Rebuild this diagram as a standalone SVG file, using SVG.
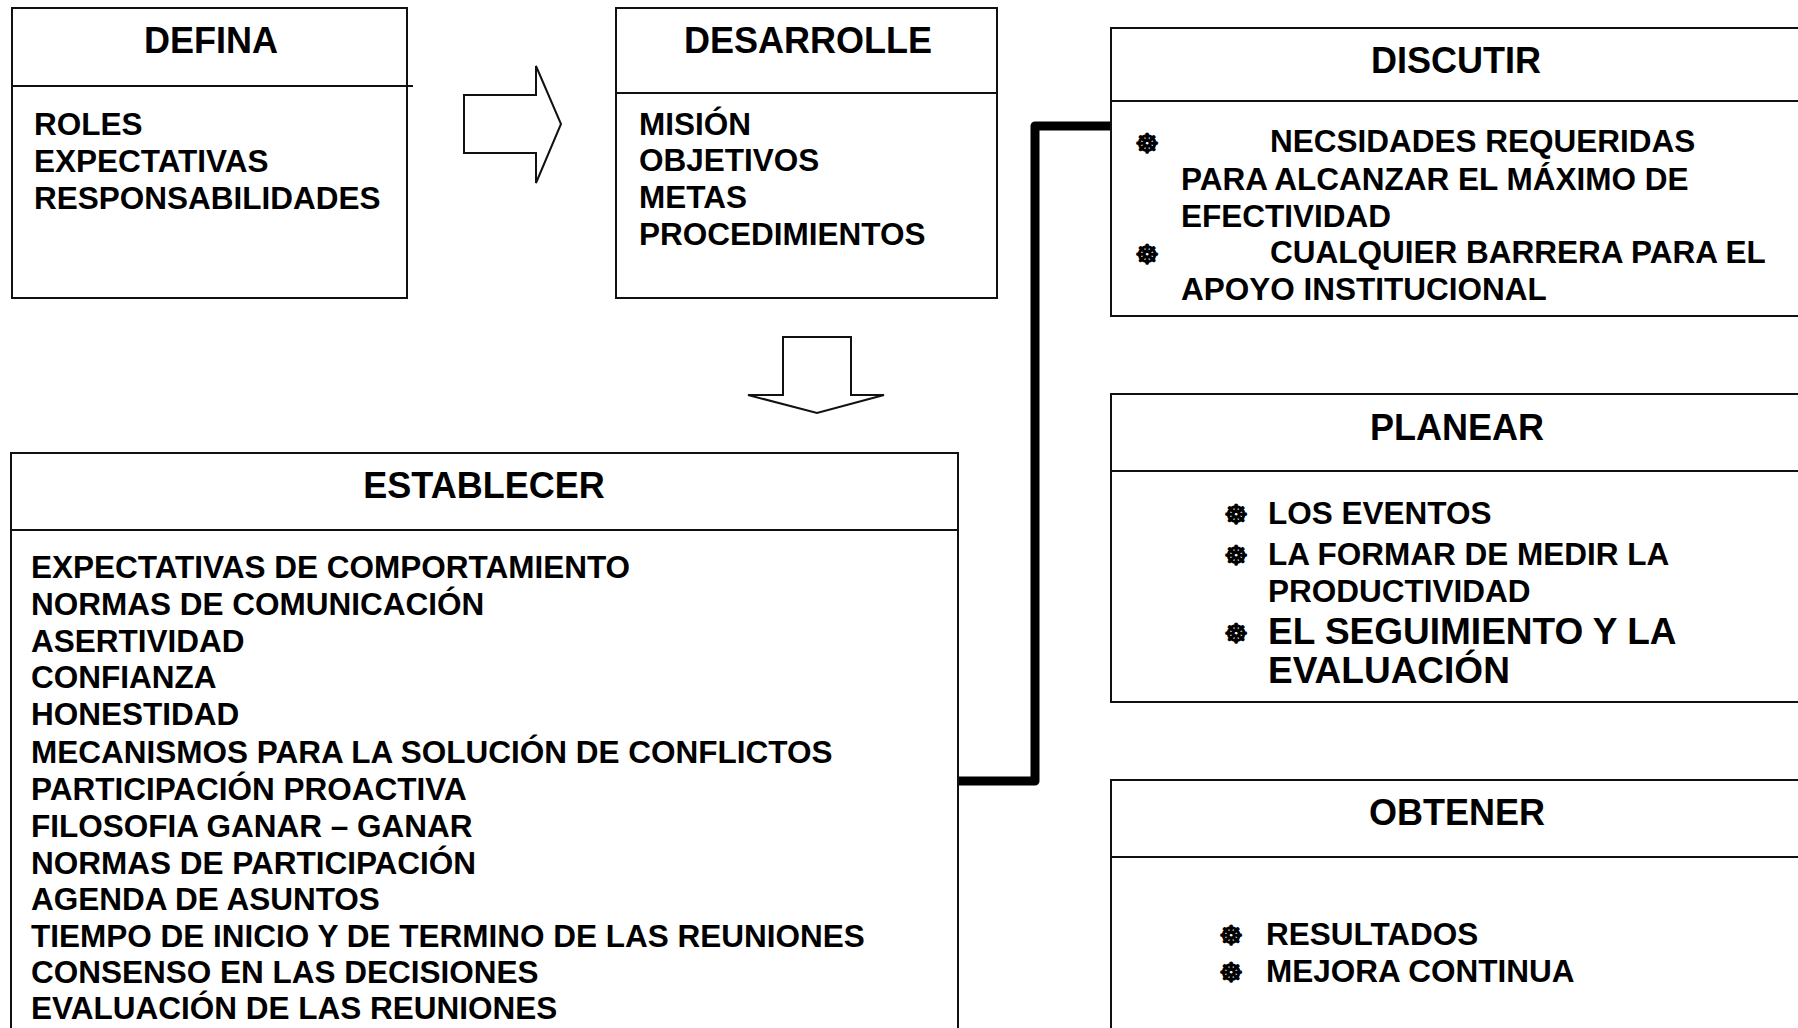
<svg xmlns="http://www.w3.org/2000/svg" width="1798" height="1028" viewBox="0 0 1798 1028">
<defs>
<style>
.box{fill:#fff;stroke:#111;stroke-width:2}
.div{stroke:#111;stroke-width:2;fill:none}
.t{font-family:"Liberation Sans",Arial,sans-serif;font-weight:bold;fill:#000}
.title{font-size:36px;text-anchor:middle}
.body{font-size:31.5px}
.big{font-size:37px}
.bul{font-family:"DejaVu Sans",sans-serif;font-size:27px;text-anchor:middle;fill:#000;stroke:#000;stroke-width:1.3}
.arrow{fill:#fff;stroke:#111;stroke-width:2;stroke-linejoin:miter}
.conn{fill:none;stroke:#000;stroke-width:9;stroke-linejoin:round}
</style>
</defs>
<rect width="1798" height="1028" fill="#fff"/>

<g id="connectors">
<polygon class="arrow" points="464,95 536,95 536,66 561,124 536,183 536,153 464,153"/>
<polygon class="arrow" points="783,337 851,337 851,395 884,395 817,413 748,395 783,395"/>
<path class="conn" d="M958,781 H1035 V126 H1111"/>
</g>

<g id="defina">
<rect class="box" x="12" y="8" width="395" height="290"/>
<line class="div" x1="12" y1="86" x2="413" y2="86"/>
<text class="t title" x="211" y="53">DEFINA</text>
<text class="t body" x="34" y="135">ROLES</text>
<text class="t body" x="34" y="172">EXPECTATIVAS</text>
<text class="t body" x="34" y="209">RESPONSABILIDADES</text>
</g>

<g id="desarrolle">
<rect class="box" x="616" y="8" width="381" height="290"/>
<line class="div" x1="616" y1="93" x2="997" y2="93"/>
<text class="t title" x="808" y="53">DESARROLLE</text>
<text class="t body" x="639" y="135">MISIÓN</text>
<text class="t body" x="639" y="171">OBJETIVOS</text>
<text class="t body" x="639" y="208">METAS</text>
<text class="t body" x="639" y="245">PROCEDIMIENTOS</text>
</g>

<g id="establecer">
<rect class="box" x="11" y="453" width="947" height="600"/>
<line class="div" x1="11" y1="530" x2="958" y2="530"/>
<text class="t title" x="484" y="498">ESTABLECER</text>
<text class="t body" x="31" y="578">EXPECTATIVAS DE COMPORTAMIENTO</text>
<text class="t body" x="31" y="615">NORMAS DE COMUNICACIÓN</text>
<text class="t body" x="31" y="652">ASERTIVIDAD</text>
<text class="t body" x="31" y="688">CONFIANZA</text>
<text class="t body" x="31" y="725">HONESTIDAD</text>
<text class="t body" x="31" y="763">MECANISMOS PARA LA SOLUCIÓN DE CONFLICTOS</text>
<text class="t body" x="31" y="800">PARTICIPACIÓN PROACTIVA</text>
<text class="t body" x="31" y="837">FILOSOFIA GANAR – GANAR</text>
<text class="t body" x="31" y="874">NORMAS DE PARTICIPACIÓN</text>
<text class="t body" x="31" y="910">AGENDA DE ASUNTOS</text>
<text class="t body" x="31" y="947">TIEMPO DE INICIO Y DE TERMINO DE LAS REUNIONES</text>
<text class="t body" x="31" y="983">CONSENSO EN LAS DECISIONES</text>
<text class="t body" x="31" y="1019">EVALUACIÓN DE LAS REUNIONES</text>
</g>

<g id="discutir">
<rect class="box" x="1111" y="28" width="720" height="288"/>
<line class="div" x1="1111" y1="101" x2="1800" y2="101"/>
<text class="t title" x="1456" y="73">DISCUTIR</text>
<text class="bul" x="1147" y="153">☸</text>
<text class="t body" x="1270" y="152">NECSIDADES REQUERIDAS</text>
<text class="t body" x="1181" y="190">PARA ALCANZAR EL MÁXIMO DE</text>
<text class="t body" x="1181" y="227">EFECTIVIDAD</text>
<text class="bul" x="1147" y="264">☸</text>
<text class="t body" x="1270" y="263">CUALQUIER BARRERA PARA EL</text>
<text class="t body" x="1181" y="300">APOYO INSTITUCIONAL</text>
</g>

<g id="planear">
<rect class="box" x="1111" y="394" width="720" height="308"/>
<line class="div" x1="1111" y1="471" x2="1800" y2="471"/>
<text class="t title" x="1457" y="440">PLANEAR</text>
<text class="bul" x="1236" y="524">☸</text>
<text class="t body" x="1268" y="524">LOS EVENTOS</text>
<text class="bul" x="1236" y="565">☸</text>
<text class="t body" x="1268" y="565">LA FORMAR DE MEDIR LA</text>
<text class="t body" x="1268" y="602">PRODUCTIVIDAD</text>
<text class="bul" x="1236" y="643">☸</text>
<text class="t big" x="1268" y="644">EL SEGUIMIENTO Y LA</text>
<text class="t big" x="1268" y="683">EVALUACIÓN</text>
</g>

<g id="obtener">
<rect class="box" x="1111" y="780" width="720" height="300"/>
<line class="div" x1="1111" y1="857" x2="1800" y2="857"/>
<text class="t title" x="1457" y="825">OBTENER</text>
<text class="bul" x="1231" y="945">☸</text>
<text class="t body" x="1266" y="945">RESULTADOS</text>
<text class="bul" x="1231" y="982">☸</text>
<text class="t body" x="1266" y="982">MEJORA CONTINUA</text>
</g>
</svg>
